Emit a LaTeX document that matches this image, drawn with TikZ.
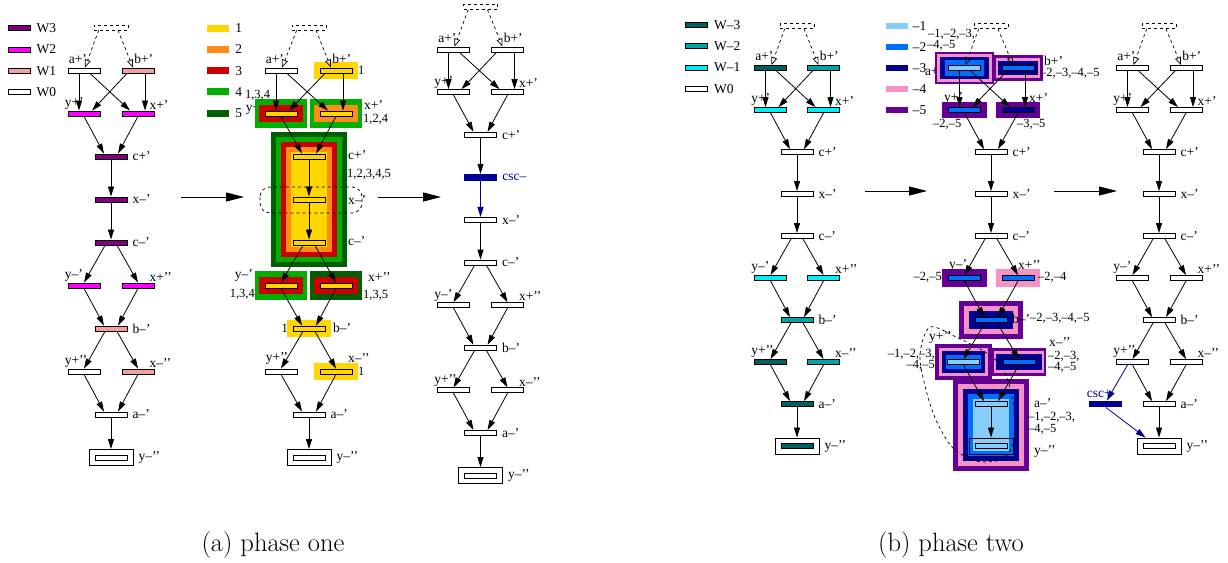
\documentclass[tikz,border=0pt]{standalone}
\usepackage{fontspec}
\newfontfamily\tms{Liberation Serif}
\usetikzlibrary{arrows.meta,positioning,fit,backgrounds}

\definecolor{wthree}{RGB}{128,0,128}
\definecolor{wtwo}{RGB}{255,0,255}
\definecolor{wone}{RGB}{245,160,160}
\definecolor{kone}{RGB}{255,214,0}
\definecolor{ktwo}{RGB}{255,140,20}
\definecolor{kthree}{RGB}{205,0,0}
\definecolor{kfour}{RGB}{0,175,0}
\definecolor{kfive}{RGB}{0,95,0}
\definecolor{mthree}{RGB}{0,95,95}
\definecolor{mtwo}{RGB}{0,165,165}
\definecolor{mone}{RGB}{0,240,250}
\definecolor{nega}{RGB}{135,205,250}
\definecolor{negb}{RGB}{0,110,255}
\definecolor{negc}{RGB}{0,0,145}
\definecolor{negd}{RGB}{245,145,195}
\definecolor{nege}{RGB}{100,0,150}
\definecolor{cscblue}{RGB}{0,0,150}

\begin{document}
\begin{tikzpicture}[x=1pt, y=-1pt,
  bar/.style={draw, line width=0.85pt, fill=white, minimum width=32pt,
              minimum height=5pt, inner sep=0pt},
  cscbar/.style={fill=cscblue, minimum width=33pt, minimum height=6.5pt, inner sep=0pt},
  topbox/.style={draw, dashed, line width=0.7pt, minimum width=34pt,
                 minimum height=5pt, inner sep=0pt},
  endbox/.style={draw, line width=0.85pt, minimum width=44pt,
                 minimum height=16pt, inner sep=0pt},
  swatch/.style={minimum width=22pt, minimum height=5pt, inner sep=0pt},
  lab/.style={font=\tms\fontsize{13.5}{14}\selectfont, inner sep=1pt},
  num/.style={font=\tms\fontsize{12.5}{12}\selectfont, inner sep=0pt},
  captext/.style={font=\fontsize{26.5}{30}\selectfont},
  ltop/.style={label={[lab,anchor=south west,yshift=3pt]north west:#1}},
  rtop/.style={label={[lab,anchor=south east,yshift=3pt]north east:#1}},
  lside/.style={label={[lab,anchor=south west,xshift=-4pt]north west:#1}},
  rside/.style={label={[lab,anchor=south west,xshift=-6pt]north east:#1}},
  rlab/.style={label={[lab,label distance=4pt]right:#1}},
  arr/.style={-{Triangle[length=10pt,width=6pt]}, line width=0.8pt},
  darr/.style={dashed, line width=0.7pt, -{Triangle[open,length=8pt,width=6pt]}},
  big/.style={-{Triangle[length=18pt,width=9pt]}, line width=0.9pt}]
\useasboundingbox (0,0) rectangle (1228,562);

% legends
\foreach \c/\n [count=\i] in {wthree/W3, wtwo/W2, wone/W1, white/W0} {
  \node[swatch, draw, line width=0.7pt, fill=\c] (ka\i) at (19,7+21.3*\i) {};
  \node[lab, right=5pt of ka\i] {\n};
}
\foreach \c/\n [count=\i] in {kone/1, ktwo/2, kthree/3, kfour/4, kfive/5} {
  \node[swatch, minimum height=7pt, fill=\c] (kb\i) at (218,6.7+21.3*\i) {};
  \node[lab, right=5pt of kb\i] {\n};
}
\foreach \c/\n [count=\i] in {mthree/W–3, mtwo/W–2, mone/W–1, white/W0} {
  \node[swatch, draw, line width=0.7pt, fill=\c] (kd\i) at (696.5,3.5+21.3*\i) {};
  \node[lab, right=5pt of kd\i] {\n};
}
\foreach \c/\n [count=\i] in {nega/–1, negb/–2, negc/–3, negd/–4, nege/–5} {
  \node[swatch, minimum height=6pt, fill=\c] (ke\i) at (896.5,4.5+21.1*\i) {};
  \node[lab, right=4pt of ke\i] {\n};
}

% (a) left
\begin{scope}[shift={(111,70.5)}, y=-43pt]
  \node[topbox] (A-d) at (0,-1) {};
  \node[bar, ltop=a+’] (A-ap) at (-27,0) {};
  \node[bar, fill=wone, rtop=b+’] (A-bp) at (27,0) {};
  \node[bar, fill=wtwo, lside=y+’] (A-yp) at (-27,1) {};
  \node[bar, fill=wtwo, rside=x+’] (A-xp) at (27,1) {};
  \node[bar, fill=wthree, rlab=c+’] (A-cp) at (0,2) {};
  \node[bar, fill=wthree, rlab=x–’] (A-xm) at (0,3) {};
  \node[bar, fill=wthree, rlab=c–’] (A-cm) at (0,4) {};
  \node[bar, fill=wtwo, lside=y–’] (A-ym) at (-27,5) {};
  \node[bar, fill=wtwo, rside=x+’’] (A-xpp) at (27,5) {};
  \node[bar, fill=wone, rlab=b–’] (A-bm) at (0,6) {};
  \node[bar, lside=y+’’] (A-ypp) at (-27,7) {};
  \node[bar, fill=wone, rside=x–’’] (A-xmm) at (27,7) {};
  \node[bar, rlab=a–’] (A-am) at (0,8) {};
  \node[endbox, rlab=y–’’] (A-ymm) at (0,9) {};
  \node[bar] (A-ymmi) at (0,9) {};
\end{scope}

% (a) middle
\begin{scope}[shift={(309,70.5)}, y=-43pt]
  \node[topbox] (B-d) at (0,-1) {};
  \node[bar, ltop=a+’] (B-ap) at (-28,0) {};
  \node[bar, fill=kone, rtop=b+’] (B-bp) at (27,0) {};
  \node[bar, fill=kone] (B-yp) at (-28,1) {};
  \node[bar, fill=kone] (B-xp) at (27,1) {};
  \node[bar, fill=kone] (B-cp) at (0,2) {};
  \node[bar, fill=kone] (B-xm) at (0,3) {};
  \node[bar, fill=kone] (B-cm) at (0,4) {};
  \node[bar, fill=kone] (B-ym) at (-28,5) {};
  \node[bar, fill=kone] (B-xpp) at (27,5) {};
  \node[bar, fill=kone] (B-bm) at (0,6) {};
  \node[bar, ltop=y+’’] (B-ypp) at (-28,7) {};
  \node[bar, fill=kone] (B-xmm) at (27,7) {};
  \node[bar, rlab=a–’] (B-am) at (0,8) {};
  \node[endbox, rlab=y–’’] (B-ymm) at (0,9) {};
  \node[bar] (B-ymmi) at (0,9) {};
\end{scope}
\begin{scope}[on background layer]
  \node[lab, anchor=east] at (266,108) {y+’};
  \node[fit=(B-bp), inner sep=6pt, fill=kone] {};
  \node[fit=(B-yp), inner xsep=10pt, inner ysep=11.5pt, fill=kfour] {};
  \node[fit=(B-yp), inner sep=6pt, fill=kthree] {};
  \node[fit=(B-xp), inner xsep=10pt, inner ysep=11.5pt, fill=kfour] {};
  \node[fit=(B-xp), inner sep=6pt, fill=ktwo] {};
  \node[fit=(B-cp)(B-cm), inner xsep=21.5pt, inner ysep=22pt, fill=kfive] {};
  \node[fit=(B-cp)(B-cm), inner xsep=16.5pt, inner ysep=17pt, fill=kfour] {};
  \node[fit=(B-cp)(B-cm), inner xsep=11.5pt, inner ysep=12pt, fill=kthree] {};
  \node[fit=(B-cp)(B-cm), inner xsep=6.5pt, inner ysep=7pt, fill=ktwo] {};
  \node[fit=(B-cp)(B-cm), inner xsep=1.5pt, inner ysep=2pt, fill=kone] {};
  \node[fit=(B-ym), inner xsep=10pt, inner ysep=11.5pt, fill=kfour] {};
  \node[fit=(B-ym), inner sep=6pt, fill=kthree] {};
  \node[fit=(B-xpp), inner xsep=10pt, inner ysep=11.5pt, fill=kfive] {};
  \node[fit=(B-xpp), inner sep=6pt, fill=kthree] {};
  \node[fit=(B-bm), inner sep=6pt, fill=kone] {};
  \node[fit=(B-xmm), inner sep=6pt, fill=kone] {};
\end{scope}
\draw[dashed, line width=0.7pt, rounded corners=10pt] (260,187) rectangle (362,213);
\node[num, anchor=west] at (358,70.5) {1};
\node[num] at (257.5,95.5) {1,3,4};
\node[lab, anchor=west] at (363,105.5) {x+’};
\node[num, anchor=west] at (363,119.5) {1,2,4};
\node[lab, anchor=west] at (347,155) {c+’};
\node[num, anchor=west] at (347,174) {1,2,3,4,5};
\node[lab, anchor=west] at (347,200) {x–’};
\node[lab, anchor=west] at (347,241) {c–’};
\node[lab, anchor=east] at (254,275) {y–’};
\node[num, anchor=east] at (255,294.5) {1,3,4};
\node[lab, anchor=west] at (367,277) {x+’’};
\node[num, anchor=west] at (363,295.5) {1,3,5};
\node[num, anchor=east] at (288,328.5) {1};
\node[lab, anchor=west] at (332,327.5) {b–’};
\node[lab, anchor=west] at (347,358) {x–’’};
\node[num, anchor=west] at (358,371) {1};

% (a) right
\begin{scope}[shift={(480.5,49.5)}, y=-42.6pt]
  \node[topbox] (C-d) at (0,-1) {};
  \node[bar, ltop=a+’] (C-ap) at (-27,0) {};
  \node[bar, rtop=b+’] (C-bp) at (27,0) {};
  \node[bar, lside=y+’] (C-yp) at (-27,1) {};
  \node[bar, rside=x+’] (C-xp) at (27,1) {};
  \node[bar, rlab=c+’] (C-cp) at (0,2) {};
  \node[cscbar, label={[lab,text=cscblue,label distance=4pt]right:csc–}] (C-csc) at (0,3) {};
  \node[bar, rlab=x–’] (C-xm) at (0,4) {};
  \node[bar, rlab=c–’] (C-cm) at (0,5) {};
  \node[bar, lside=y–’] (C-ym) at (-27,6) {};
  \node[bar, rside=x+’’] (C-xpp) at (27,6) {};
  \node[bar, rlab=b–’] (C-bm) at (0,7) {};
  \node[bar, lside=y+’’] (C-ypp) at (-27,8) {};
  \node[bar, rside=x–’’] (C-xmm) at (27,8) {};
  \node[bar, rlab=a–’] (C-am) at (0,9) {};
  \node[endbox, rlab=y–’’] (C-ymm) at (0,10) {};
  \node[bar] (C-ymmi) at (0,10) {};
\end{scope}
\draw[arr] (C-cp) -- (C-csc);
\draw[arr, cscblue] (C-csc) -- (C-xm);

% (b) left
\begin{scope}[shift={(797,68)}, y=-42pt]
  \node[topbox] (D-d) at (0,-1) {};
  \node[bar, fill=mthree, ltop=a+’] (D-ap) at (-26.5,0) {};
  \node[bar, fill=mtwo, rtop=b+’] (D-bp) at (26.5,0) {};
  \node[bar, fill=mone, lside=y+’] (D-yp) at (-26.5,1) {};
  \node[bar, fill=mone, rside=x+’] (D-xp) at (26.5,1) {};
  \node[bar, rlab=c+’] (D-cp) at (0,2) {};
  \node[bar, rlab=x–’] (D-xm) at (0,3) {};
  \node[bar, rlab=c–’] (D-cm) at (0,4) {};
  \node[bar, fill=mone, lside=y–’] (D-ym) at (-26.5,5) {};
  \node[bar, fill=mone, rside=x+’’] (D-xpp) at (26.5,5) {};
  \node[bar, fill=mtwo, rlab=b–’] (D-bm) at (0,6) {};
  \node[bar, fill=mthree, lside=y+’’] (D-ypp) at (-26.5,7) {};
  \node[bar, fill=mtwo, rside=x–’’] (D-xmm) at (26.5,7) {};
  \node[bar, fill=mthree, rlab=a–’] (D-am) at (0,8) {};
  \node[endbox, rlab=y–’’] (D-ymm) at (0,9) {};
  \node[bar, fill=mthree] (D-ymmi) at (0,9) {};
\end{scope}

% (b) middle
\begin{scope}[shift={(991,68)}, y=-42pt]
  \node[topbox] (E-d) at (0,-1) {};
  \node[bar, fill=nega] (E-ap) at (-26.5,0) {};
  \node[bar, fill=negb] (E-bp) at (27,0) {};
  \node[bar, fill=negb] (E-yp) at (-26.5,1) {};
  \node[bar, fill=negc] (E-xp) at (27,1) {};
  \node[bar, rlab=c+’] (E-cp) at (0,2) {};
  \node[bar, rlab=x–’] (E-xm) at (0,3) {};
  \node[bar, rlab=c–’] (E-cm) at (0,4) {};
  \node[bar, fill=negb] (E-ym) at (-26.5,5) {};
  \node[bar, fill=negb] (E-xpp) at (27,5) {};
  \node[bar, fill=negb] (E-bm) at (0,6) {};
  \node[bar, fill=nega] (E-ypp) at (-27.5,7) {};
  \node[bar, fill=negb] (E-xmm) at (28,7) {};
  \node[bar, fill=nega] (E-am) at (0,8) {};
  \node[endbox] (E-ymm) at (0,9) {};
  \node[bar, fill=nega] (E-ymmi) at (0,9) {};
\end{scope}
\begin{scope}[on background layer]
  \node[lab, anchor=west] at (924,71.5) {a+’};
  \node[fit=(E-ap), inner sep=13.5pt, fill=nege] {};
  \node[fit=(E-ap), inner sep=11pt, fill=negd] {};
  \node[fit=(E-ap), inner xsep=8pt, inner ysep=8.5pt, fill=negc] {};
  \node[fit=(E-ap), inner xsep=3.5pt, inner ysep=5pt, fill=negb] {};
  \node[fit=(E-bp), inner xsep=8.5pt, inner ysep=10.5pt, fill=nege] {};
  \node[fit=(E-bp), inner xsep=5.5pt, inner ysep=7.5pt, fill=negd] {};
  \node[fit=(E-bp), inner xsep=3.5pt, inner ysep=4pt, fill=negc] {};
  \node[fit=(E-yp), inner xsep=6pt, inner ysep=5.5pt, fill=nege] {};
  \node[fit=(E-xp), inner xsep=6pt, inner ysep=5.5pt, fill=nege] {};
  \node[fit=(E-ym), inner sep=6pt, fill=nege] {};
  \node[fit=(E-xpp), inner sep=6pt, fill=negd] {};
  \node[fit=(E-bm), inner xsep=16pt, inner ysep=16.5pt, fill=nege] {};
  \node[fit=(E-bm), inner xsep=10.5pt, inner ysep=11pt, fill=negd] {};
  \node[fit=(E-bm), inner sep=6pt, fill=negc] {};
  \node[fit=(E-ypp), inner xsep=12pt, inner ysep=15pt, fill=nege] {};
  \node[fit=(E-ypp), inner xsep=8.5pt, inner ysep=11.5pt, fill=negd] {};
  \node[fit=(E-ypp), inner xsep=5pt, inner ysep=8.5pt, fill=negc] {};
  \node[fit=(E-ypp), inner xsep=1.5pt, inner ysep=4.5pt, fill=negb] {};
  \node[fit=(E-xmm), inner sep=11pt, fill=nege] {};
  \node[fit=(E-xmm), inner xsep=8.5pt, inner ysep=8pt, fill=negd] {};
  \node[fit=(E-xmm), inner xsep=6.5pt, inner ysep=5pt, fill=negc] {};
  \node[fit=(E-am)(E-ymmi), inner xsep=21.5pt, inner ysep=22pt, fill=nege] {};
  \node[fit=(E-am)(E-ymmi), inner xsep=16.5pt, inner ysep=17pt, fill=negd] {};
  \node[fit=(E-am)(E-ymmi), inner xsep=11.5pt, inner ysep=12pt, fill=negc] {};
  \node[fit=(E-am)(E-ymmi), inner xsep=6.5pt, inner ysep=7pt, fill=negb] {};
  \node[fit=(E-am)(E-ymmi), inner xsep=1.5pt, inner ysep=2pt, fill=nega] {};
\end{scope}
\draw[dashed, line width=0.7pt] plot[smooth cycle] coordinates {(930,327) (958,338)
  (985,352) (1003,368) (1011,392) (1015,420) (1012,447) (1000,460) (975,461)
  (952,447) (936,420) (926,390) (920,355)};
\node[num, anchor=west] at (928,34.5) {–1,–2,–3,};
\node[num, anchor=west] at (927,45) {–4,–5};
\node[lab, anchor=west] at (1043,60.5) {b+’};
\node[num, anchor=west] at (1040,73) {–2,–3,–4,–5};
\node[lab, anchor=west] at (943,98.5) {y+’};
\node[num, anchor=west] at (933,124.5) {–2,–5};
\node[lab, anchor=west] at (1028,98.5) {x+’};
\node[num, anchor=west] at (1017,124.5) {–3,–5};
\node[lab, anchor=west] at (948,265.5) {y–’};
\node[num, anchor=east] at (942,277.5) {–2,–5};
\node[lab, anchor=west] at (1017,265.5) {x+’’};
\node[num, anchor=west] at (1038,277.5) {–2,–4};
\node[lab, anchor=west] at (1011,318.5) {b–’};
\node[num, anchor=west] at (1030,318.5) {–2,–3,–4,–5};
\node[lab, anchor=west] at (928,337.5) {y+’’};
\node[num, anchor=east] at (935,354.5) {–1,–2,–3,};
\node[num, anchor=east] at (935,365.5) {–4,–5};
\node[lab, anchor=west] at (1048,342.5) {x–’’};
\node[num, anchor=west] at (1048,356) {–2,–3,};
\node[num, anchor=west] at (1048,367) {–4,–5};
\node[lab, anchor=west] at (1033,403.5) {a–’};
\node[num, anchor=west] at (1028,417.5) {–1,–2,–3,};
\node[num, anchor=west] at (1028,429) {–4,–5};
\node[lab, anchor=west] at (1033,451) {y–’’};

% (b) right
\begin{scope}[shift={(1159,68)}, y=-42pt]
  \node[topbox] (F-d) at (0,-1) {};
  \node[bar, ltop=a+’] (F-ap) at (-26.5,0) {};
  \node[bar, rtop=b+’] (F-bp) at (27,0) {};
  \node[bar, lside=y+’] (F-yp) at (-26.5,1) {};
  \node[bar, rside=x+’] (F-xp) at (27,1) {};
  \node[bar, rlab=c+’] (F-cp) at (0,2) {};
  \node[bar, rlab=x–’] (F-xm) at (0,3) {};
  \node[bar, rlab=c–’] (F-cm) at (0,4) {};
  \node[bar, lside=y–’] (F-ym) at (-26.5,5) {};
  \node[bar, rside=x+’’] (F-xpp) at (27,5) {};
  \node[bar, rlab=b–’] (F-bm) at (0,6) {};
  \node[bar, lside=y+’’] (F-ypp) at (-26.5,7) {};
  \node[bar, rside=x–’’] (F-xmm) at (27,7) {};
  \node[bar, rlab=a–’] (F-am) at (0,8) {};
  \node[endbox, rlab=y–’’] (F-ymm) at (0,9) {};
  \node[bar] (F-ymmi) at (0,9) {};
\end{scope}
\node[cscbar, left=20pt of F-am,
  label={[lab,text=cscblue,anchor=south east,xshift=7pt,yshift=2pt]north:csc+}] (F-csc) {};
\draw[arr, cscblue] ([xshift=-5pt]F-ypp.south) -- ([xshift=1pt]F-csc.north);
\draw[arr, cscblue] (F-csc.south) -- ([xshift=9pt]F-ymm.north west);

% arcs of all six nets
\foreach \g in {A,B,C,D,E,F} {
  \draw[darr] ([xshift=5pt]\g-d.south west) -- ([xshift=1pt]\g-ap.north);
  \draw[darr] ([xshift=7pt]\g-d.south) -- ([xshift=-5pt]\g-bp.north);
  \draw[arr] ([xshift=-5pt]\g-ap.south) -- ([xshift=-5pt]\g-yp.north);
  \draw[arr] ([xshift=6pt]\g-ap.south) -- ([xshift=-8pt]\g-xp.north);
  \draw[arr] ([xshift=-11pt]\g-bp.south) -- ([xshift=8pt]\g-yp.north);
  \draw[arr] ([xshift=7pt]\g-bp.south) -- ([xshift=7pt]\g-xp.north);
  \draw[arr] (\g-yp.south) -- ([xshift=-7pt]\g-cp.north);
  \draw[arr] (\g-xp.south) -- ([xshift=7pt]\g-cp.north);
  \draw[arr] (\g-xm) -- (\g-cm);
  \draw[arr] ([xshift=-6pt]\g-cm.south) -- (\g-ym.north);
  \draw[arr] ([xshift=6pt]\g-cm.south) -- (\g-xpp.north);
  \draw[arr] (\g-ym.south) -- ([xshift=-7pt]\g-bm.north);
  \draw[arr] (\g-xpp.south) -- ([xshift=7pt]\g-bm.north);
  \draw[arr] ([xshift=-6pt]\g-bm.south) -- (\g-ypp.north);
  \draw[arr] ([xshift=6pt]\g-bm.south) -- (\g-xmm.north);
  \draw[arr] (\g-ypp.south) -- ([xshift=-7pt]\g-am.north);
  \draw[arr] (\g-xmm.south) -- ([xshift=7pt]\g-am.north);
  \draw[arr] (\g-am) -- (\g-ymm);
}
\foreach \g in {A,B,D,E,F} \draw[arr] (\g-cp) -- (\g-xm);

% steps between nets
\coordinate (s1) at (181,197); \coordinate (t1) at (244,197);
\coordinate (s2) at (378,197); \coordinate (t2) at (441,197);
\coordinate (s3) at (865,191); \coordinate (t3) at (927,191);
\coordinate (s4) at (1054,191); \coordinate (t4) at (1117,191);
\draw[big] (s1) -- (t1); \draw[big] (s2) -- (t2);
\draw[big] (s3) -- (t3); \draw[big] (s4) -- (t4);

\node[captext] (capa) at (273,545) {(a) phase one};
\node[captext] (capb) at (951,545) {(b) phase two};
\end{tikzpicture}
\end{document}
